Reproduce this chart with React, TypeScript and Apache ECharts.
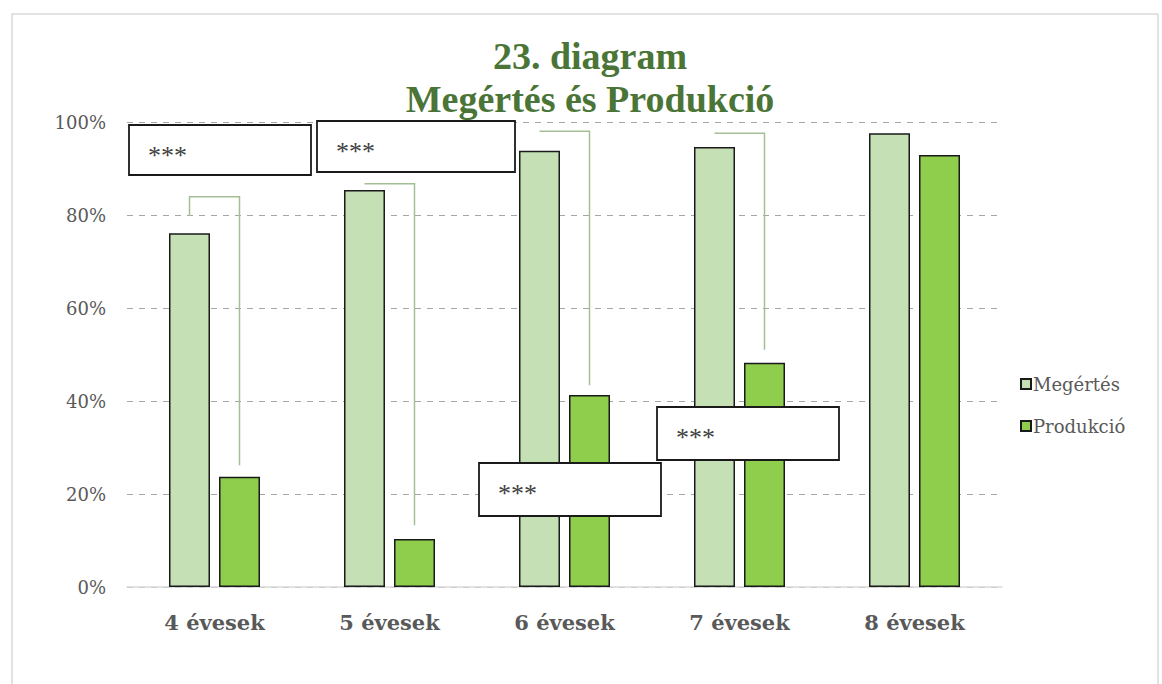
import React, { useEffect, useRef } from "react";
import * as echarts from "echarts";

const categories = ["4 évesek", "5 évesek", "6 évesek", "7 évesek", "8 évesek"];
const megertes = [76.1, 85.4, 93.8, 94.6, 97.6];
const produkcio = [23.7, 10.3, 41.3, 48.2, 92.9];
const yTicks = [0, 20, 40, 60, 80, 100];

// significance brackets: [category index, top level, left end level, right end level]
const brackets = [
  [0, 83.9, 79.8, 26.2],
  [1, 86.7, 86.7, 13.3],
  [2, 98.0, 98.0, 43.4],
  [3, 97.6, 97.6, 51.0],
];

// "***" annotation boxes (layout)
const boxes = [
  { x: 129, y: 125, w: 182, h: 50 },
  { x: 317, y: 121, w: 198, h: 51 },
  { x: 479, y: 463, w: 182, h: 53 },
  { x: 657, y: 407, w: 182, h: 53 },
];
const boxLabel = "***";

const SERIF = "'Liberation Serif', 'Times New Roman', serif";
const WIDE_SERIF = "'DejaVu Serif', serif";

export default function App() {
  const ref = useRef<HTMLDivElement>(null);
  useEffect(() => {
    document.body.style.margin = "0";
    const chart = echarts.init(ref.current!, undefined, { renderer: "svg" });
    const graphics: any[] = [
      {
        type: "rect",
        shape: { x: 12, y: 14, width: 1146, height: 700 },
        style: { fill: "none", stroke: "#d9d9d9", lineWidth: 1.5 },
        z: 1,
      },
      {
        type: "text",
        x: 590,
        y: 34,
        style: {
          text: "23. diagram\nMegértés és Produkció",
          font: `bold 38px ${SERIF}`,
          fill: "#4a7537",
          align: "center",
          verticalAlign: "top",
          lineHeight: 43,
        },
        z: 100,
      },
    ];
    boxes.forEach((b) => {
      graphics.push({
        type: "group",
        z: 100,
        children: [
          {
            type: "rect",
            shape: { x: b.x, y: b.y, width: b.w, height: b.h },
            style: { fill: "#ffffff", stroke: "#1a1a1a", lineWidth: 1.8 },
            z: 100,
          },
          {
            type: "text",
            x: b.x + 19,
            y: b.y + 30,
            style: {
              text: boxLabel,
              font: `26px ${SERIF}`,
              fill: "#404040",
              verticalAlign: "middle",
            },
            z: 101,
          },
        ],
      });
    });

    chart.setOption({
      animation: false,
      backgroundColor: "#ffffff",
      grid: { left: 127, right: 160, top: 122, bottom: 97 },
      legend: {
        data: ["Megértés", "Produkció"],
        orient: "vertical",
        left: 1015,
        top: 370,
        itemWidth: 10,
        itemHeight: 10,
        itemGap: 24,
        icon: "rect",
        textStyle: { fontFamily: WIDE_SERIF, fontSize: 18, color: "#595959", padding: [0, 0, 0, -3] },
      },
      xAxis: {
        type: "category",
        data: categories,
        axisLine: { lineStyle: { color: "#d9d9d9", width: 1.5 } },
        axisTick: { show: false },
        axisLabel: {
          fontFamily: WIDE_SERIF,
          fontWeight: "bold",
          fontSize: 21,
          color: "#595959",
          margin: 25,
        },
      },
      yAxis: {
        type: "value",
        min: yTicks[0],
        max: yTicks[yTicks.length - 1],
        interval: 20,
        axisLine: { show: false },
        axisTick: { show: false },
        axisLabel: {
          formatter: "{value}%",
          fontFamily: WIDE_SERIF,
          fontSize: 18,
          color: "#595959",
          margin: 21,
        },
        splitLine: { lineStyle: { type: [6, 6], color: "#a6a6a6", width: 1.2 } },
      },
      series: [
        {
          name: "Megértés",
          type: "bar",
          data: megertes,
          barWidth: 41,
          barGap: "22%",
          itemStyle: { color: "#c5e0b4", borderColor: "#1a1a1a", borderWidth: 1.5 },
        },
        {
          name: "Produkció",
          type: "bar",
          data: produkcio,
          barWidth: 41,
          itemStyle: { color: "#8fcd4c", borderColor: "#1a1a1a", borderWidth: 1.5 },
        },
        {
          name: "brackets",
          type: "custom",
          data: brackets,
          encode: { x: 0, y: 1 },
          z: 5,
          renderItem: (params: any, api: any) => {
            const cat = api.value(0);
            const top = api.coord([cat, api.value(1)]);
            const lEnd = api.coord([cat, api.value(2)]);
            const rEnd = api.coord([cat, api.value(3)]);
            const off = 25;
            return {
              type: "polyline",
              shape: {
                points: [
                  [top[0] - off, lEnd[1]],
                  [top[0] - off, top[1]],
                  [top[0] + off, top[1]],
                  [top[0] + off, rEnd[1]],
                ],
              },
              style: { fill: "none", stroke: "#a3bf93", lineWidth: 1.5 },
            };
          },
        },
      ],
      graphic: graphics,
    });
    return () => chart.dispose();
  }, []);
  return <div ref={ref} style={{ width: 1162, height: 684 }} />;
}
